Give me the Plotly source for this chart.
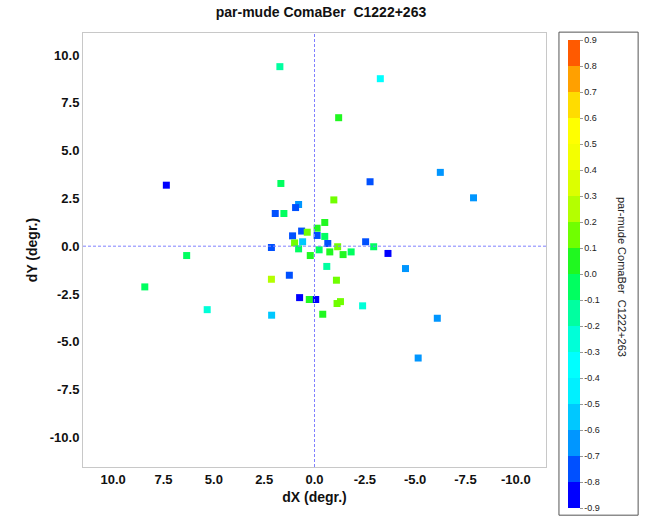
import plotly.graph_objects as go

dx = [1.72, 7.36, 1.67, 0.79, 0.94, 1.95, 1.52, -0.13, -0.13, 0.64, 0.36, 1.09, 0.99, 0.59,
      2.14, 0.79, -0.23, -3.27, -1.20, -6.25, -2.76, -7.90, -0.96, -0.51, -0.51, -0.66,
      -2.54, -1.15, -2.94, 0.21, -0.76, -1.42, -1.82, -3.65, -4.52, -0.61, -1.09, -0.06,
      0.26, -1.12, -1.29, -2.39, -0.41, -6.10, -5.15, 6.35, 1.25, 2.14, 8.43, 0.74, 5.33, 2.13]
dy = [9.39, 3.19, 3.28, 2.18, 2.02, 1.71, 1.71, 0.94, 0.56, 0.79, 0.73, 0.54, 0.17, 0.23,
      -0.07, -0.14, -0.19, 8.76, 6.72, 3.86, 3.37, 2.53, 2.42, 1.24, 0.51, 0.14,
      0.23, -0.03, -0.03, -0.49, -0.30, -0.44, -0.30, -0.38, -1.17, -1.06, -1.78, -2.79,
      -2.79, -3.00, -2.90, -3.12, -3.56, -3.77, -5.85, -0.49, -1.52, -1.73, -2.13, -2.69, -3.32, -3.61]
val = [-0.15, -0.85, -0.05, -0.65, -0.8, -0.8, -0.05, 0.05, -0.75, -0.8, 0.12, -0.75, 0.15, -0.55,
       -0.8, -0.05, -0.1, -0.4, 0.05, -0.65, -0.8, -0.65, 0.15, 0.05, -0.05, -0.8,
       -0.8, 0.15, -0.05, 0.05, 0.05, 0.05, -0.05, -0.85, -0.7, -0.15, 0.15, -0.9,
       0.05, 0.15, 0.15, -0.2, 0.05, -0.65, -0.7, -0.05, -0.75, 0.25, -0.05, -0.85, -0.25, -0.6]

axis_ticks = [10.0, 7.5, 5.0, 2.5, 0.0, -2.5, -5.0, -7.5, -10.0]
cb_ticks = [round(-0.9 + 0.1 * i, 1) for i in range(19)]
band_colors = ["#0000FF", "#0050FF", "#0096FF", "#00C8FF", "#00F0FF", "#00FFFF", "#00FFD8",
               "#00FFA0", "#00FF60", "#20F820", "#70FF00", "#B4FF00", "#DCFF00", "#F4FF00",
               "#FFFF00", "#FFDC00", "#FFA000", "#FF5A00"]
title_text = "par-mude ComaBer  C1222+263"

vmin, vmax = -0.9, 0.9
n = len(band_colors)
cscale = []
for i, c in enumerate(band_colors):
    cscale.append([i / n, c])
    cscale.append([(i + 1) / n, c])

FONT = "Liberation Sans, Arial, sans-serif"

fig = go.Figure()
fig.add_trace(go.Scatter(
    x=dx, y=dy, mode="markers",
    marker=dict(symbol="square", size=7, color=val, cmin=vmin, cmax=vmax,
                colorscale=cscale, line=dict(width=0),
                colorbar=dict(
                    tickvals=cb_ticks, ticktext=[f"{t:.1f}" for t in cb_ticks],
                    thickness=12, lenmode="pixels", len=468,
                    x=1.0475, xanchor="left", xpad=0,
                    y=0.4447, yanchor="middle", ypad=0,
                    outlinewidth=0, ticks="outside", ticklen=3, tickcolor="#999999",
                    tickfont=dict(family=FONT, size=9, color="#222222"),
                    showticklabels=True)),
    showlegend=False, hoverinfo="x+y"))

# zero lines
fig.add_shape(type="line", xref="x", yref="paper", x0=0, x1=0, y0=0, y1=1,
              line=dict(color="#8080ff", width=1, dash="3px,2px"))
fig.add_shape(type="line", xref="paper", yref="y", x0=0, x1=1, y0=0, y1=0,
              line=dict(color="#8080ff", width=1, dash="3px,2px"))
# colorbar box
fig.add_shape(type="rect", xref="paper", yref="paper", x0=1.028, x1=1.199, y0=-0.111, y1=1.002,
              line=dict(color="#555555", width=1), fillcolor="rgba(0,0,0,0)", layer="below")
fig.add_annotation(text=title_text, xref="paper", yref="paper", x=1.164, y=0.438,
                   xanchor="center", yanchor="middle",
                   textangle=90, showarrow=False, font=dict(family=FONT, size=11, color="#222222"))

fig.update_layout(
    width=652, height=520,
    margin=dict(l=83, r=106, t=33, b=53),
    paper_bgcolor="white", plot_bgcolor="white",
    title=dict(text="<b>" + title_text + "</b>", x=0.514, xref="paper", xanchor="center",
               y=0.977, yanchor="middle", font=dict(family=FONT, size=14, color="#111111")),
    xaxis=dict(range=[11.5, -11.5], tickvals=axis_ticks, ticktext=[f"{t:.1f}" for t in axis_ticks],
               showgrid=False, zeroline=False, showline=True, mirror=True, linecolor="#c8c8c8",
               ticks="", tickfont=dict(family=FONT, size=13, color="#111111", weight="bold"),
               title=dict(text="<b>dX (degr.)</b>", font=dict(family=FONT, size=14, color="#111111"), standoff=6)),
    yaxis=dict(range=[-11.55, 11.15], tickvals=axis_ticks, ticktext=[f"{t:.1f}" for t in axis_ticks],
               showgrid=False, zeroline=False, showline=True, mirror=True, linecolor="#c8c8c8",
               ticks="", tickfont=dict(family=FONT, size=13, color="#111111", weight="bold"),
               title=dict(text="<b>dY (degr.)</b>", font=dict(family=FONT, size=14, color="#111111"), standoff=8)),
)

fig.write_html("out.html", config={"displayModeBar": False},
               post_script="document.body.style.margin='0px';")
